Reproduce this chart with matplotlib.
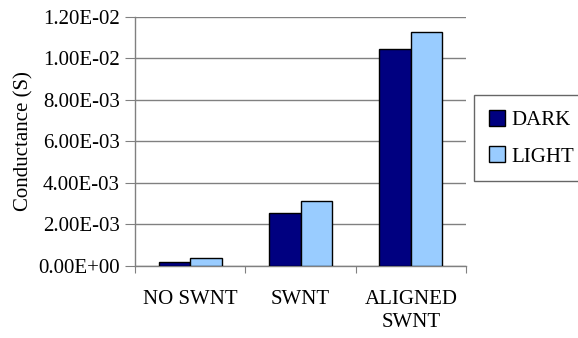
import matplotlib

matplotlib.use("Agg")
import matplotlib.pyplot as plt
import numpy as np
from matplotlib.patches import Patch
from matplotlib.ticker import FuncFormatter

categories = ["NO SWNT", "SWNT", "ALIGNED\nSWNT"]
dark = [2.0e-4, 2.57e-3, 1.046e-2]
light = [3.7e-4, 3.15e-3, 1.129e-2]
series_names = ["DARK", "LIGHT"]
y_ticks = [0.0, 2e-3, 4e-3, 6e-3, 8e-3, 1e-2, 1.2e-2]

DARK_COLOR = "#000080"
LIGHT_COLOR = "#99ccff"
GRID_COLOR = "#808080"

plt.rcParams["font.family"] = ["Liberation Serif", "DejaVu Serif"]
plt.rcParams["font.size"] = 15

fig = plt.figure(figsize=(5.78, 3.38), dpi=100)
ax = fig.add_axes([0.2336, 0.213, 0.5726, 0.737])

x = np.arange(len(categories))
w = 1 / 3.5  # excel-style gap width of 150%
ax.bar(x - w / 2, dark, w, color=DARK_COLOR, edgecolor="black", linewidth=1, zorder=3)
ax.bar(x + w / 2, light, w, color=LIGHT_COLOR, edgecolor="black", linewidth=1, zorder=3)

ax.set_xlim(-0.5, len(categories) - 0.5)
ax.set_ylim(0, 1.2e-2)
ax.set_yticks(y_ticks)
ax.yaxis.set_major_formatter(FuncFormatter(lambda v, _: f"{v:.2E}"))
ax.grid(axis="y", color=GRID_COLOR, linewidth=1, zorder=0)

# category labels sit between the boundary ticks
ax.set_xticks(np.arange(len(categories) + 1) - 0.5)
ax.set_xticklabels([])
ax.set_xticks(x, minor=True)
ax.set_xticklabels(categories, minor=True, linespacing=1.3)
ax.tick_params(axis="x", which="minor", length=0, pad=17)
ax.tick_params(axis="x", which="major", length=5, color=GRID_COLOR, direction="out")
ax.tick_params(axis="y", length=7, color=GRID_COLOR, direction="out", pad=4)

for side in ("top", "right"):
    ax.spines[side].set_visible(False)
for side in ("left", "bottom"):
    ax.spines[side].set_color(GRID_COLOR)
    ax.spines[side].set_linewidth(1)

ax.set_ylabel("Conductance (S)", labelpad=3)

handles = [
    Patch(facecolor=DARK_COLOR, edgecolor="black"),
    Patch(facecolor=LIGHT_COLOR, edgecolor="black"),
]
fig.legend(
    handles,
    series_names,
    loc="upper left",
    bbox_to_anchor=(474 / 578, 1 - 95 / 338),
    frameon=True,
    fancybox=False,
    edgecolor="#404040",
    handlelength=0.8,
    handleheight=0.8,
    handletextpad=0.3,
    borderpad=0.7,
    borderaxespad=0,
    labelspacing=0.8,
)

fig.savefig("out.png", dpi=100)
